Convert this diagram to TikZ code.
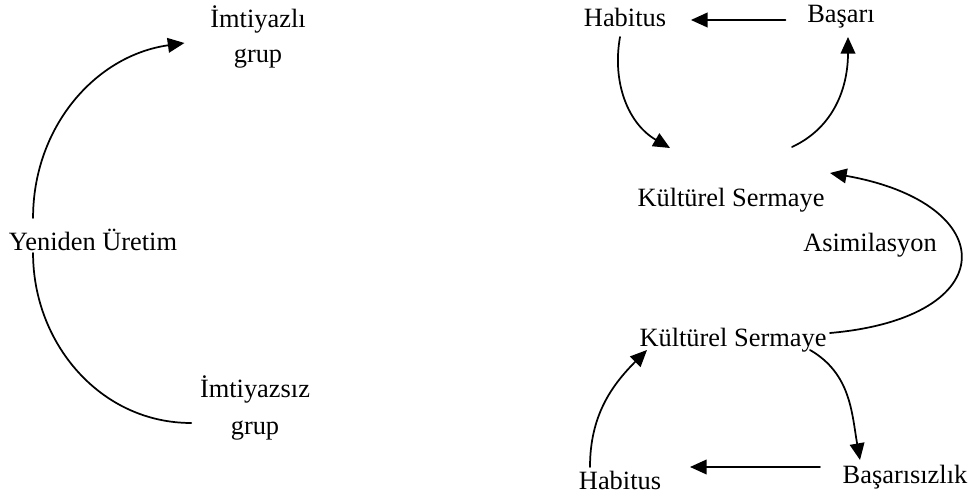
\documentclass[tikz,border=0pt]{standalone}
\usepackage{fontspec}
\setmainfont{Liberation Serif}
\usetikzlibrary{arrows.meta}
\begin{document}
\begin{tikzpicture}[x=0.75pt,y=0.75pt,line join=round,line cap=round,>={Triangle[length=12.5pt,width=11pt]},line width=1.3pt,font=\fontsize{19.8}{26}\selectfont,every node/.style={inner sep=0pt,align=center}]
				\useasboundingbox (0,0) rectangle (972,496);
				% left: reproduction
				\node (grpA) at (258,459) {İmtiyazlı\\grup};
				\node (grpB) at (255,88) {İmtiyazsız\\[2pt]grup};
				\node (uretim) at (93,256) {Yeniden Üretim};
				\draw ([shift={(-8,-15)}]grpB.west) to[out=180,in=-90] ([shift={(25,-13)}]uretim.west);
				\draw[->] ([shift={(25,22)}]uretim.west) to[out=90,in=188] ([shift={(-25,-6)}]grpA.west);
				% right: success cycle
				\node (hab1) at (625,479) {Habitus};
				\node (bas1) at (841,479) {Başarı};
				\node (ks1) at (731,296) {Kültürel Sermaye};
				\node (asim) at (870,251) {Asimilasyon};
				\draw[->] ([shift={(-21,-3)}]bas1.west) -- ([shift={(24,-3)}]hab1.east);
				\draw[->] ([shift={(-5,-20)}]hab1.center) to[out=-100,in=150] ([shift={(-61,52)}]ks1.center);
				\draw[->] ([shift={(61,53)}]ks1.center) to[out=25,in=-90] ([shift={(7,-20)}]bas1.center);
				% right: failure cycle
				\node (ks2) at (733,156) {Kültürel Sermaye};
				\node (hab2) at (620,16) {Habitus};
				\node (bas2) at (905,19) {Başarısızlık};
				\draw[->] ([shift={(97,7)}]ks2.center) to[out=5,in=-10,looseness=2.8] ([shift={(99,27)}]ks1.center);
				\draw[->] ([shift={(77,-10)}]ks2.center) to[out=-30,in=100] ([shift={(-45,17)}]bas2.center);
				\draw[->] ([shift={(-30,13)}]hab2.center) to[out=90,in=225] ([shift={(-86,-10)}]ks2.center);
				\draw[->] ([shift={(-85,10)}]bas2.center) -- ([shift={(70,13)}]hab2.center);
			\end{tikzpicture}
\end{document}
